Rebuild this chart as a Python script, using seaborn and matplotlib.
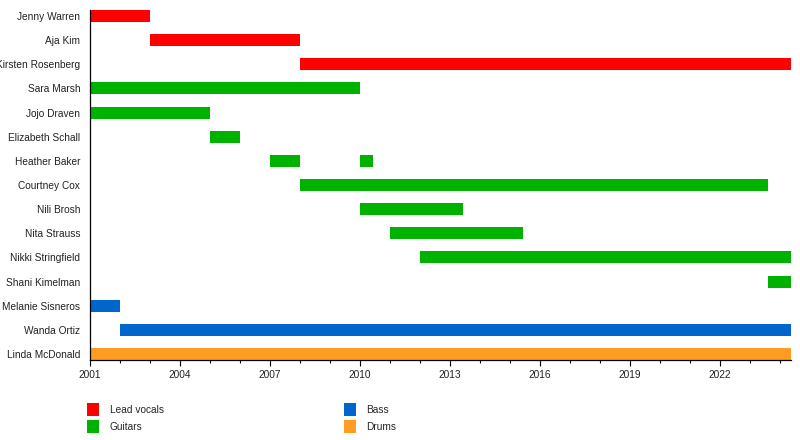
import numpy as np
import pandas as pd
import matplotlib
matplotlib.use("Agg")
import matplotlib.pyplot as plt
import seaborn as sns
from matplotlib.patches import Patch
from matplotlib.ticker import MultipleLocator

# band members, top to bottom
members = ["Jenny Warren", "Aja Kim", "Kirsten Rosenberg", "Sara Marsh", "Jojo Draven",
           "Elizabeth Schall", "Heather Baker", "Courtney Cox", "Nili Brosh", "Nita Strauss",
           "Nikki Stringfield", "Shani Kimelman", "Melanie Sisneros", "Wanda Ortiz", "Linda McDonald"]

# one entry per period (Heather Baker has two)
period_member = ["Jenny Warren", "Aja Kim", "Kirsten Rosenberg", "Sara Marsh", "Jojo Draven",
                 "Elizabeth Schall", "Heather Baker", "Heather Baker", "Courtney Cox", "Nili Brosh",
                 "Nita Strauss", "Nikki Stringfield", "Shani Kimelman", "Melanie Sisneros",
                 "Wanda Ortiz", "Linda McDonald"]
period_role = ["Lead vocals", "Lead vocals", "Lead vocals", "Guitars", "Guitars",
               "Guitars", "Guitars", "Guitars", "Guitars", "Guitars",
               "Guitars", "Guitars", "Guitars", "Bass",
               "Bass", "Drums"]
period_start = [2001.0, 2003.0, 2008.0, 2001.0, 2001.0,
                2005.0, 2007.0, 2010.0, 2008.0, 2010.0,
                2011.0, 2012.0, 2023.6, 2001.0,
                2002.0, 2001.0]
period_end = [2003.0, 2008.0, 2024.37, 2010.0, 2005.0,
              2006.0, 2008.0, 2010.45, 2023.6, 2013.45,
              2015.45, 2024.37, 2024.37, 2002.0,
              2024.37, 2024.37]

roles = ["Lead vocals", "Guitars", "Bass", "Drums"]
role_colors = ["#FF0000", "#00B200", "#0066CC", "#FF9C22"]

start_year = 2001
end_year = 2024.37

df = pd.DataFrame({"member": period_member, "role": period_role,
                   "start": period_start, "end": period_end})
df["row"] = df["member"].map({m: i for i, m in enumerate(members)})
palette = dict(zip(roles, role_colors))

sns.set_theme(style="white")
plt.rcParams["font.family"] = ["Liberation Sans", "DejaVu Sans"]

fig = plt.figure(figsize=(8, 4.4), dpi=100)
ax = fig.add_axes([90 / 800, 80 / 440, 701 / 800, 350 / 440])

for role, grp in df.groupby("role"):
    ax.barh(grp["row"], grp["end"] - grp["start"], left=grp["start"],
            height=0.5, color=palette[role], linewidth=0)

ax.set_yticks(range(len(members)))
ax.set_yticklabels(members, fontsize=7.3, color="#222222")
ax.set_ylim(len(members) - 0.75, -0.25)
ax.set_xlim(start_year, end_year)
ax.xaxis.set_major_locator(MultipleLocator(3))
ax.xaxis.set_minor_locator(MultipleLocator(1))
ax.tick_params(axis="y", length=0, pad=7)
ax.tick_params(axis="x", which="major", bottom=True, direction="out", length=4,
               width=0.8, color="black", labelsize=7.3, pad=3, labelcolor="#222222")
ax.tick_params(axis="x", which="minor", bottom=True, direction="out", length=2.5,
               width=0.8, color="black")
ax.grid(False)
sns.despine(ax=ax, top=True, right=True)
for side in ["left", "bottom"]:
    ax.spines[side].set_color("black")
    ax.spines[side].set_linewidth(0.9)

handles = [Patch(facecolor=c, edgecolor="none") for c in role_colors]
fig.legend(handles, roles, loc="upper left", bbox_to_anchor=(84 / 800, 1 - 400 / 440),
           ncol=2, frameon=False, fontsize=7.3, handlelength=1.22, handleheight=1.55,
           handletextpad=1.0, labelspacing=0.45, columnspacing=17.8, borderaxespad=0,
           borderpad=0.3)

fig.savefig("out.png", dpi=100, facecolor="white")
